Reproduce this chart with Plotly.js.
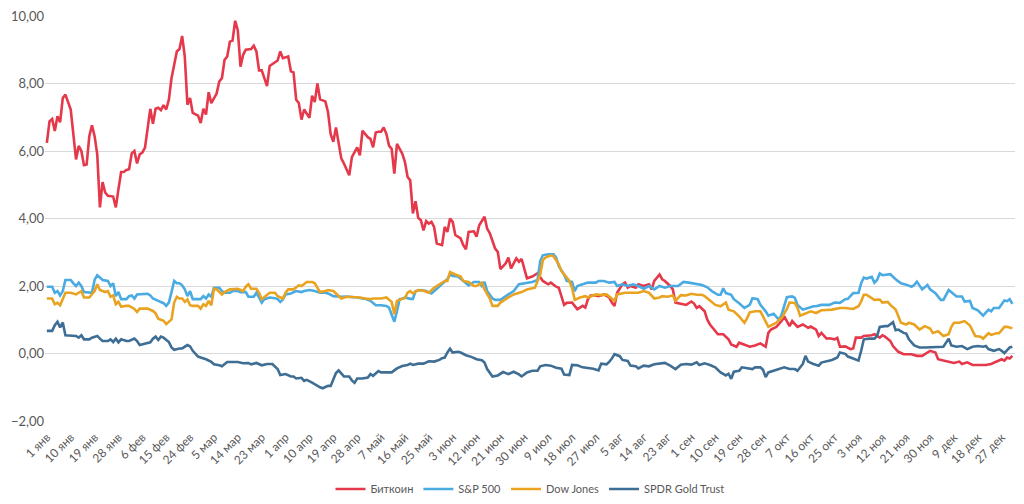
<!DOCTYPE html>
<html>
<head>
<meta charset="utf-8">
<script src="https://cdn.plot.ly/plotly-3.0.1.min.js"></script>
<style>
html,body{margin:0;padding:0;background:#fff;}
#chart{width:1024px;height:504px;}
</style>
</head>
<body>
<div id="chart"></div>
<script>
// Day of year (0 = 1 янв) and values
const btcDay = [0,1,2,3,4,5,6,7,9,10,11,12,13,14,15,16,17,18,19,20,21,22,23,25,26,27,28,29,30,31,32,33,34,35,36,37,38,39,40,41,42,43,44,45,46,47,49,50,51,52,53,54,55,57,58,59,60,61,62,63,64,65,66,67,68,69,70,71,72,73,74,75,77,78,79,80,81,82,83,84,86,87,88,89,91,92,93,94,95,96,97,99,100,101,102,103,105,106,107,108,109,111,112,114,115,117,118,119,121,122,123,124,125,126,127,128,129,130,131,132,134,135,136,137,138,139,140,141,142,143,144,145,146,147,149,150,151,152,153,154,156,157,158,159,161,162,163,165,166,167,169,170,171,173,174,175,177,178,179,180,181,183,185,187,189,190,192,193,194,195,196,198,199,200,202,203,204,205,207,208,210,212,213,214,215,217,218,219,220,222,223,225,227,228,229,231,232,233,235,236,237,239,241,243,244,245,246,248,249,250,251,253,255,257,258,260,261,263,265,267,269,271,272,273,275,277,278,280,281,283,285,287,288,290,291,292,294,295,297,298,299,301,303,304,305,307,308,311,312,314,315,316,318,319,321,323,324,326,328,330,332,333,335,336,338,340,342,344,345,347,349,350,352,354,356,358,360,361,362,363,364];
const btc = [6.24,6.88,6.95,6.59,7.03,6.85,7.57,7.67,7.23,6.54,5.75,6.15,6.0,5.58,5.6,6.44,6.76,6.44,5.9,4.33,5.08,4.77,4.67,4.65,4.33,4.87,5.38,5.38,5.44,5.46,5.93,6.0,5.63,5.9,5.95,6.1,6.64,7.25,6.81,7.25,7.28,7.21,7.36,7.23,7.52,8.16,8.95,9.02,9.41,8.80,7.37,7.57,7.13,7.05,6.83,7.25,7.08,7.74,7.42,7.57,7.70,8.06,8.16,8.70,8.80,9.24,9.27,9.86,9.57,8.50,8.85,9.0,9.02,9.12,8.95,8.39,8.39,8.16,7.92,8.52,8.62,8.68,8.95,8.75,8.8,8.36,8.33,7.52,7.42,6.93,7.23,6.98,7.64,7.45,8.0,7.53,7.47,7.15,6.5,6.27,6.70,5.78,5.63,5.28,5.82,6.11,5.87,6.60,6.41,6.36,6.11,6.55,6.57,6.57,6.70,6.51,6.16,6.06,5.33,6.21,5.92,5.67,5.23,5.13,4.15,4.51,4.02,3.95,3.65,3.92,3.85,3.9,3.75,3.26,3.21,3.75,3.6,4.0,3.9,3.51,3.41,3.21,3.09,3.60,3.62,3.46,3.80,4.05,3.70,3.56,3.11,3.01,2.50,2.67,2.84,2.52,2.82,2.72,2.80,2.47,2.23,2.28,2.38,2.15,2.05,2.10,1.98,1.95,1.70,1.44,1.50,1.51,1.41,1.31,1.41,1.36,1.61,1.72,1.72,1.70,1.75,1.66,1.51,1.41,1.80,2.05,2.10,1.95,2.0,1.95,2.05,2.0,2.05,1.90,2.15,2.34,2.20,2.15,2.0,1.90,1.51,1.47,1.44,1.54,1.48,1.35,1.40,1.25,1.0,0.86,0.76,0.57,0.57,0.42,0.27,0.20,0.32,0.27,0.20,0.24,0.30,0.20,0.61,0.71,0.79,0.96,1.10,0.81,0.96,0.79,0.86,0.76,0.80,0.71,0.52,0.61,0.44,0.45,0.42,0.46,0.20,0.21,0.13,0.15,0.47,0.47,0.52,0.54,0.57,0.47,0.54,0.50,0.37,0.22,0.05,-0.02,-0.02,-0.02,-0.07,-0.07,0.03,0.08,0.03,-0.17,-0.21,-0.24,-0.28,-0.24,-0.31,-0.26,-0.34,-0.34,-0.34,-0.34,-0.31,-0.24,-0.17,-0.21,-0.12,-0.15,-0.07];

const spDay = [0,2,3,4,5,6,7,9,10,11,12,13,14,16,17,18,19,20,21,23,24,25,26,27,28,30,31,32,33,34,36,38,39,40,42,43,44,45,46,47,48,49,50,51,52,53,54,55,57,58,59,60,61,62,63,65,66,67,69,70,72,73,75,76,78,79,80,81,82,84,86,87,88,89,90,92,94,96,97,99,101,103,105,106,108,111,113,115,117,119,120,122,124,126,128,129,130,131,132,133,134,135,137,138,139,141,143,145,147,149,150,151,152,153,155,156,158,159,161,163,164,165,166,168,169,171,174,176,178,180,183,185,186,187,189,191,192,193,195,196,198,199,200,202,204,207,208,210,212,214,215,217,219,221,223,225,227,229,231,233,235,238,240,242,244,247,249,251,253,254,255,256,258,259,261,263,265,266,268,269,271,272,274,275,276,277,278,279,281,282,283,285,287,289,290,292,295,297,299,301,302,304,306,307,308,309,311,312,313,314,315,317,318,320,322,324,326,327,328,330,331,332,333,335,337,338,340,342,343,345,346,348,349,351,352,353,355,356,357,359,361,362,363,364];
const sp = [1.98,1.98,1.80,1.85,1.72,1.85,2.18,2.18,2.08,2.0,2.10,2.0,1.82,1.80,1.80,2.18,2.32,2.25,2.18,2.15,2.0,2.08,1.70,1.82,1.61,1.61,1.70,1.72,1.63,1.75,1.75,1.77,1.72,1.63,1.56,1.53,1.49,1.41,1.51,1.82,2.15,2.08,2.08,2.02,1.90,1.70,1.85,1.61,1.61,1.61,1.70,1.63,1.75,1.68,1.95,1.95,1.85,1.80,1.80,1.85,1.85,1.82,1.82,1.68,1.68,1.80,1.66,1.51,1.61,1.66,1.64,1.61,1.53,1.60,1.75,1.78,1.85,1.82,1.85,1.88,1.85,1.80,1.80,1.78,1.70,1.68,1.69,1.68,1.66,1.63,1.62,1.56,1.43,1.43,1.41,1.36,1.16,0.94,1.26,1.61,1.62,1.66,1.62,1.62,1.85,1.88,1.85,1.78,1.92,2.05,2.12,2.20,2.34,2.30,2.28,2.22,2.10,2.02,2.12,2.12,2.0,2.12,1.85,1.63,1.59,1.59,1.75,1.85,2.05,2.08,2.12,2.18,2.74,2.91,2.94,2.94,2.84,2.59,2.34,2.15,2.12,1.85,2.0,2.05,2.10,2.10,2.15,2.15,2.10,2.12,2.0,2.05,2.0,2.05,2.0,1.92,2.0,1.90,2.0,1.95,2.0,2.0,2.12,2.10,2.08,2.03,1.96,1.83,1.74,1.74,1.93,1.79,1.74,1.61,1.49,1.35,1.44,1.64,1.61,1.44,1.25,1.12,1.18,1.10,1.0,1.15,1.40,1.67,1.69,1.65,1.44,1.30,1.35,1.40,1.40,1.44,1.44,1.51,1.50,1.61,1.62,1.79,1.80,2.08,2.25,2.22,2.27,2.10,2.18,2.37,2.32,2.35,2.35,2.20,2.08,2.04,1.98,2.03,2.13,1.90,1.98,2.03,1.90,1.79,1.59,1.59,1.88,1.74,1.69,1.69,1.54,1.56,1.35,1.28,1.20,1.12,1.30,1.25,1.35,1.35,1.57,1.55,1.61,1.47];

const dowDay = [0,2,3,4,5,6,7,9,11,12,13,14,16,18,19,20,22,23,24,25,26,27,28,30,31,33,34,35,37,38,40,41,42,43,44,45,46,47,48,49,50,51,52,53,54,55,57,58,59,60,61,62,63,64,66,67,69,71,72,74,75,76,77,79,80,81,83,84,86,87,89,90,91,93,95,96,98,100,101,102,103,105,106,108,110,111,113,116,118,120,122,123,126,128,130,131,132,134,135,136,137,138,140,142,144,146,148,150,151,152,154,156,157,159,161,162,164,165,167,168,170,171,174,176,179,181,184,186,187,188,190,191,193,194,196,197,198,199,201,203,204,207,209,211,213,214,215,218,220,223,225,227,229,231,232,234,236,237,239,241,243,245,247,248,250,252,254,256,257,259,261,263,264,265,267,269,270,272,273,275,276,277,279,280,282,283,284,286,288,290,292,294,296,299,301,304,306,307,308,309,311,312,314,315,317,318,320,321,322,324,325,327,329,331,333,334,336,338,340,341,342,344,346,348,349,350,352,353,355,356,358,359,361,362,364];
const dow = [1.63,1.63,1.46,1.50,1.43,1.60,1.80,1.80,1.75,1.80,1.85,1.66,1.66,1.85,2.05,1.88,1.82,1.85,1.68,1.72,1.46,1.53,1.39,1.41,1.41,1.32,1.23,1.33,1.33,1.33,1.26,1.19,1.03,1.01,0.97,0.87,0.94,1.01,1.51,1.68,1.63,1.63,1.53,1.60,1.43,1.41,1.41,1.33,1.46,1.41,1.56,1.43,1.92,1.90,1.75,1.82,1.90,1.90,1.92,1.85,1.98,2.05,1.92,1.92,1.80,1.61,1.75,1.80,1.80,1.70,1.63,1.80,1.90,1.90,2.02,2.0,2.12,2.12,2.08,1.95,1.82,1.85,1.88,1.85,1.72,1.63,1.68,1.68,1.66,1.63,1.61,1.63,1.63,1.66,1.53,1.16,1.56,1.62,1.64,1.80,1.85,1.78,1.88,1.86,1.80,1.95,2.05,2.15,2.15,2.41,2.34,2.28,2.15,2.12,2.0,2.0,2.10,1.90,1.63,1.41,1.41,1.51,1.66,1.75,1.82,1.90,1.95,2.34,2.77,2.84,2.91,2.88,2.64,2.44,2.25,2.15,1.95,1.59,1.66,1.70,1.66,1.75,1.73,1.75,1.63,1.56,1.75,1.80,1.80,1.80,1.85,1.80,1.63,1.66,1.70,1.68,1.72,1.56,1.73,1.72,1.77,1.74,1.74,1.70,1.57,1.44,1.40,1.51,1.30,1.25,1.10,0.91,1.05,1.22,1.25,1.25,1.10,0.79,0.83,0.91,1.0,1.05,1.32,1.51,1.50,1.35,1.12,1.18,1.25,1.20,1.28,1.29,1.30,1.35,1.35,1.32,1.40,1.54,1.74,1.74,1.64,1.59,1.60,1.51,1.53,1.44,1.30,1.08,0.91,0.86,0.91,0.86,0.71,0.81,0.74,0.61,0.66,0.52,0.57,0.79,0.91,0.91,0.96,0.83,0.66,0.52,0.50,0.44,0.60,0.55,0.60,0.60,0.79,0.79,0.75];

const goldDay = [0,2,3,4,5,6,7,9,11,12,13,14,16,17,19,20,21,23,24,25,26,27,28,30,31,33,34,35,37,39,40,41,42,43,44,45,46,47,48,50,51,53,54,55,57,58,60,62,63,65,66,68,70,72,74,76,77,79,81,83,85,87,88,90,92,93,94,96,97,98,100,101,103,104,106,107,108,109,110,111,112,114,115,116,117,119,121,122,123,125,126,128,130,132,134,136,137,138,140,142,144,146,148,149,150,151,152,153,155,156,158,160,162,164,165,166,168,170,172,174,176,178,179,181,183,185,186,188,190,192,194,195,197,198,200,202,204,206,208,209,211,212,213,214,216,217,219,220,222,223,225,227,229,231,233,235,237,239,241,243,245,246,248,250,252,254,256,257,258,259,261,262,264,266,267,269,270,271,272,274,276,278,280,282,283,285,286,287,289,291,292,294,296,298,299,301,302,304,306,307,308,310,312,313,314,316,317,319,320,321,323,324,325,327,329,331,334,336,338,340,341,343,345,347,349,351,353,354,355,357,359,360,361,363,364];
const gold = [0.67,0.67,0.84,0.94,0.77,0.92,0.54,0.52,0.52,0.47,0.54,0.42,0.42,0.47,0.52,0.44,0.37,0.37,0.42,0.34,0.44,0.33,0.42,0.37,0.37,0.44,0.37,0.25,0.28,0.33,0.44,0.50,0.40,0.50,0.47,0.40,0.34,0.18,0.11,0.15,0.15,0.25,0.21,0.08,-0.09,-0.12,-0.17,-0.25,-0.32,-0.35,-0.38,-0.25,-0.25,-0.25,-0.29,-0.28,-0.32,-0.28,-0.35,-0.31,-0.31,-0.46,-0.64,-0.61,-0.68,-0.68,-0.74,-0.72,-0.81,-0.78,-0.86,-0.91,-1.0,-1.03,-0.96,-0.96,-0.75,-0.58,-0.50,-0.60,-0.68,-0.68,-0.80,-0.87,-0.74,-0.74,-0.71,-0.61,-0.66,-0.52,-0.56,-0.56,-0.56,-0.44,-0.37,-0.34,-0.30,-0.34,-0.30,-0.30,-0.23,-0.24,-0.19,-0.14,-0.12,0.03,0.14,0.03,0.05,0.03,-0.05,-0.10,-0.17,-0.20,-0.27,-0.46,-0.68,-0.65,-0.55,-0.61,-0.54,-0.62,-0.68,-0.56,-0.51,-0.51,-0.38,-0.34,-0.36,-0.42,-0.45,-0.62,-0.64,-0.34,-0.35,-0.41,-0.43,-0.45,-0.50,-0.30,-0.32,-0.25,-0.15,-0.02,-0.08,-0.19,-0.22,-0.36,-0.38,-0.44,-0.36,-0.38,-0.32,-0.30,-0.28,-0.36,-0.46,-0.33,-0.31,-0.33,-0.26,-0.34,-0.29,-0.34,-0.41,-0.56,-0.65,-0.60,-0.75,-0.54,-0.51,-0.41,-0.44,-0.46,-0.41,-0.41,-0.48,-0.70,-0.56,-0.51,-0.46,-0.41,-0.46,-0.46,-0.51,-0.31,-0.07,-0.24,-0.31,-0.36,-0.27,-0.24,-0.19,-0.12,0.03,-0.01,-0.09,-0.15,-0.21,0.08,0.42,0.44,0.44,0.52,0.79,0.81,0.81,0.93,0.69,0.71,0.61,0.59,0.42,0.24,0.18,0.18,0.18,0.18,0.20,0.44,0.24,0.20,0.22,0.13,0.20,0.22,0.20,0.22,0.13,0.08,0.13,0.08,0.01,0.18,0.20];

const tickLabels = ["1 янв","10 янв","19 янв","28 янв","6 фев","15 фев","24 фев","5 мар","14 мар","23 мар","1 апр","10 апр","19 апр","28 апр","7 май","16 май","25 май","3 июн","12 июн","21 июн","30 июн","9 июл","18 июл","27 июл","5 авг","14 авг","23 авг","1 сен","10 сен","19 сен","28 сен","7 окт","16 окт","25 окт","3 ноя","12 ноя","21 ноя","30 ноя","9 дек","18 дек","27 дек"];
const tickDays = tickLabels.map((_, i) => i * 9);

const seriesNames = ["Биткоин","S&P 500","Dow Jones","SPDR Gold Trust"];
const seriesColors = ["#e5384a","#4aaae2","#e9a320","#3f6e95"];

const traces = [
  {x: btcDay, y: btc},
  {x: spDay, y: sp},
  {x: dowDay, y: dow},
  {x: goldDay, y: gold}
].map((t, i) => ({
  x: t.x, y: t.y, type: "scatter", mode: "lines", name: seriesNames[i],
  line: {color: seriesColors[i], width: 2.6},
  hoverinfo: "skip"
}));

const layout = {
  width: 1024, height: 504,
  margin: {l: 45, r: 9, t: 16, b: 83, autoexpand: false},
  paper_bgcolor: "#fff", plot_bgcolor: "#fff",
  separators: ", ",
  font: {family: "Lato, Noto Sans, sans-serif", size: 12, color: "#595959"},
  xaxis: {
    range: [-0.7, 365],
    tickmode: "array", tickvals: tickDays, ticktext: tickLabels,
    tickangle: -45, showgrid: false, zeroline: false, showline: false,
    ticks: "", ticklabelstandoff: 6, automargin: false,
    tickfont: {size: 12, color: "#595959"}
  },
  yaxis: {
    range: [-2, 10], dtick: 2, tick0: 0, tickformat: ".2f",
    showgrid: true, gridcolor: "#d9d9d9", gridwidth: 1,
    zeroline: false, showline: false, ticks: "", automargin: false,
    tickfont: {size: 13, color: "#595959"}
  },
  showlegend: true,
  legend: {
    orientation: "h", x: 0.5, xanchor: "center", y: -0.168, yanchor: "middle",
    font: {size: 11, color: "#595959"}, itemwidth: 30, tracegroupgap: 0
  }
};

Plotly.newPlot("chart", traces, layout, {staticPlot: true, displayModeBar: false});
</script>
</body>
</html>
